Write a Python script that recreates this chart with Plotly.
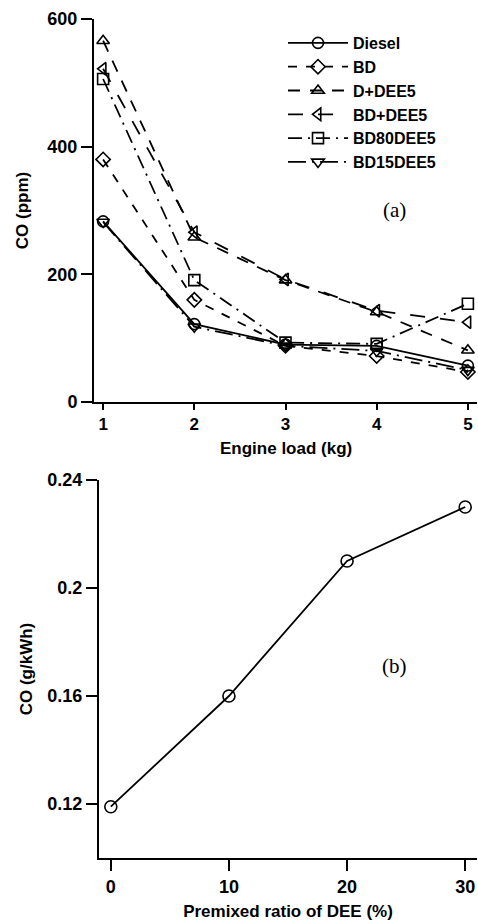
import plotly.graph_objects as go

# Panel (a): CO emission versus engine load
load_kg = [1, 2, 3, 4, 5]
co_diesel = [283, 122, 90, 88, 57]
co_bd = [380, 160, 88, 72, 47]
co_d_dee5 = [566, 258, 191, 141, 81]
co_bd_dee5 = [522, 266, 192, 143, 125]
co_bd80dee5 = [506, 191, 93, 91, 154]
co_bd15dee5 = [282, 118, 88, 80, 50]

# Panel (b): CO emission versus premixed DEE ratio
dee_ratio = [0, 10, 20, 30]
co_gkwh = [0.119, 0.16, 0.21, 0.23]

W, H = 478, 922
FONT = "Liberation Sans, Arial, sans-serif"
BLACK = "black"

series = [
    ("Diesel", co_diesel, "solid", "circle-open"),
    ("BD", co_bd, "dash", "diamond-open"),
    ("D+DEE5", co_d_dee5, "12px,10px", "triangle-up-open"),
    ("BD+DEE5", co_bd_dee5, "longdash", "triangle-left-open"),
    ("BD80DEE5", co_bd80dee5, "14px,6px,2px,6px", "square-open"),
    ("BD15DEE5", co_bd15dee5, "18px,6px,2px,6px", "triangle-down-open"),
]

fig = go.Figure()
for name, vals, dash, sym in series:
    fig.add_trace(go.Scatter(
        x=load_kg, y=vals, name=f"<b>{name}</b>", mode="lines+markers",
        line=dict(color=BLACK, width=1.8, dash=dash),
        marker=dict(symbol=sym, size=11, color=BLACK, line=dict(width=1.6, color=BLACK)),
        xaxis="x", yaxis="y",
    ))

fig.add_trace(go.Scatter(
    x=dee_ratio, y=co_gkwh, mode="lines+markers", showlegend=False,
    line=dict(color=BLACK, width=1.8),
    marker=dict(symbol="circle-open", size=12, color=BLACK, line=dict(width=1.6, color=BLACK)),
    xaxis="x2", yaxis="y2",
))


def px_x(p):
    return p / W


def px_y(p):
    return 1 - p / H


axis_common = dict(
    showgrid=False, zeroline=False, showline=True, linecolor=BLACK, linewidth=2,
    ticks="outside", ticklen=11, tickwidth=2, tickcolor=BLACK,
    tickfont=dict(family=FONT, size=18, color=BLACK),
    automargin=False,
)
title_font = dict(family=FONT, size=17, color=BLACK)


def bold(vals, fmt="{}"):
    return ["<b>" + fmt.format(v) + "</b>" for v in vals]


y1_ticks = [0, 200, 400, 600]
x2_ticks = [0, 10, 20, 30]
y2_ticks = [0.12, 0.16, 0.2, 0.24]

fig.update_layout(
    width=W, height=H,
    margin=dict(l=0, r=0, t=0, b=0),
    paper_bgcolor="white", plot_bgcolor="white",
    font=dict(family=FONT, color=BLACK),
    xaxis=dict(
        axis_common, domain=[px_x(94), px_x(477)], range=[0.9, 5.1],
        tickvals=load_kg, ticktext=bold(load_kg), anchor="y", ticklen=6,
        tickfont=dict(family=FONT, size=17, color=BLACK),
    ),
    yaxis=dict(
        axis_common, domain=[px_y(402), px_y(19)], range=[0, 600],
        tickvals=y1_ticks, ticktext=bold(y1_ticks), anchor="x",
        title=dict(text="<b>CO (ppm)</b>", font=title_font, standoff=14),
    ),
    xaxis2=dict(
        axis_common, domain=[px_x(99), px_x(477)], range=[-1, 31],
        tickvals=x2_ticks, ticktext=bold(x2_ticks), anchor="y2",
        title=dict(text="<b>Premixed ratio of DEE (%)</b>", font=title_font, standoff=10),
    ),
    yaxis2=dict(
        axis_common, domain=[px_y(858), px_y(480)], range=[0.10, 0.24],
        tickvals=y2_ticks, ticktext=bold(y2_ticks, "{:g}"), anchor="x2",
        title=dict(text="<b>CO (g/kWh)</b>", font=title_font, standoff=10),
    ),
    legend=dict(
        x=px_x(283), y=px_y(26), xanchor="left", yanchor="top",
        bgcolor="rgba(0,0,0,0)", borderwidth=0,
        font=dict(family=FONT, size=16, color=BLACK),
        itemwidth=60, tracegroupgap=0,
    ),
    annotations=[
        dict(text="<b>Engine load (kg)</b>", x=(px_x(94) + px_x(477)) / 2, y=px_y(448),
             xref="paper", yref="paper", xanchor="center", yanchor="middle",
             showarrow=False, font=title_font),
        dict(text="(a)", x=4.2, y=300, xref="x", yref="y", showarrow=False,
             font=dict(family="Liberation Serif, Times New Roman, serif", size=21, color=BLACK)),
        dict(text="(b)", x=24, y=0.171, xref="x2", yref="y2", showarrow=False,
             font=dict(family="Liberation Serif, Times New Roman, serif", size=21, color=BLACK)),
    ],
)

fig.write_html("out.html")
